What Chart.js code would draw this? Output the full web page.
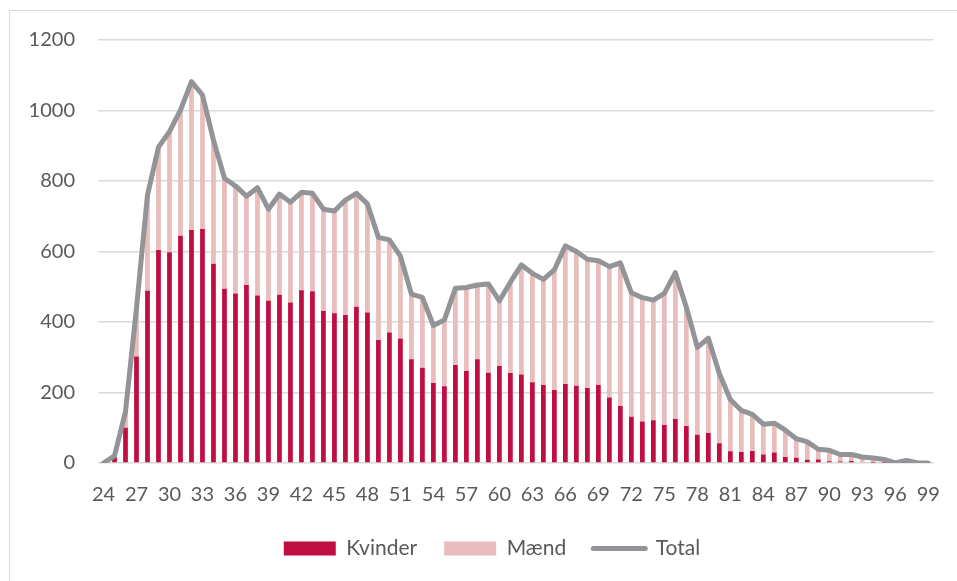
<!DOCTYPE html>
<html>
<head>
<meta charset="utf-8">
<script src="https://cdn.jsdelivr.net/npm/chart.js@4"></script>
<style>
  html, body { margin: 0; padding: 0; background: #fff; overflow: hidden; }
  #frame { position: absolute; left: 9px; top: 10px; width: 1000px; height: 1000px; border: 1px solid #d9d9d9; }
  #wrap { position: absolute; left: 0; top: 0; width: 957px; height: 581px; }
</style>
</head>
<body>
<div id="frame"></div>
<div id="wrap"><canvas id="chart"></canvas></div>
<script>
// Ages 24..99
const ages = [];
for (let a = 24; a <= 99; a++) ages.push(String(a));

const kvinder = [
  0, 16, 100, 302, 489, 604, 598, 645, 661, 664,
  565, 494, 481, 505, 475, 460, 477, 455, 490, 487,
  431, 425, 420, 443, 427, 349, 370, 353, 294, 270,
  227, 218, 278, 261, 294, 256, 275, 255, 251, 229,
  221, 207, 224, 219, 213, 221, 186, 162, 131, 118,
  121, 108, 125, 105, 80, 85, 56, 33, 31, 34,
  24, 30, 17, 15, 9, 10, 5, 4, 6, 2,
  1, 1, 0, 0, 0, 0
];

const maend = [
  0, 4, 46, 138, 271, 292, 342, 356, 421, 380,
  351, 314, 305, 252, 306, 260, 286, 285, 278, 278,
  289, 290, 326, 322, 308, 291, 263, 234, 185, 200,
  163, 188, 218, 237, 211, 252, 185, 258, 311, 309,
  300, 341, 392, 381, 365, 353, 371, 406, 352, 351,
  341, 373, 415, 337, 248, 269, 198, 147, 118, 104,
  86, 83, 76, 54, 51, 29, 31, 20, 18, 15,
  13, 9, 0, 7, 1, 0
];

const total = [
  0, 20, 146, 440, 760, 896, 940, 1001, 1082, 1044,
  916, 808, 786, 757, 781, 720, 763, 740, 768, 765,
  720, 715, 746, 765, 735, 640, 633, 587, 479, 470,
  390, 406, 496, 498, 505, 508, 460, 513, 562, 538,
  521, 548, 616, 600, 578, 574, 557, 568, 483, 469,
  462, 481, 540, 442, 328, 354, 254, 180, 149, 138,
  110, 113, 93, 69, 60, 39, 36, 24, 24, 17,
  14, 10, 0, 7, 1, 0
];

const yTicks = [0, 200, 400, 600, 800, 1000, 1200];

const textColor = '#595959';
const fontFamily = 'Lato, "Open Sans", sans-serif';

// nudge the legend to the right, like the original
const legendShift = {
  id: 'legendShift',
  afterLayout(chart) {
    chart.legend.left += 23;
    chart.legend.right += 23;
  }
};

new Chart(document.getElementById('chart'), {
  data: {
    labels: ages,
    datasets: [
      {
        type: 'bar',
        label: 'Kvinder',
        data: kvinder,
        backgroundColor: '#C00D42',
        borderWidth: 0,
        stack: 'bars',
        order: 1,
        barPercentage: 0.9,
        categoryPercentage: 0.48
      },
      {
        type: 'bar',
        label: 'Mænd',
        data: maend,
        backgroundColor: '#E8BDBC',
        borderWidth: 0,
        stack: 'bars',
        order: 2,
        barPercentage: 0.9,
        categoryPercentage: 0.48
      },
      {
        type: 'line',
        label: 'Total',
        data: total,
        borderColor: '#929497',
        backgroundColor: '#929497',
        borderWidth: 5,
        borderCapStyle: 'round',
        borderJoinStyle: 'round',
        pointRadius: 0,
        tension: 0,
        stack: 'line',
        order: 0
      }
    ]
  },
  plugins: [legendShift],
  options: {
    responsive: true,
    maintainAspectRatio: false,
    animation: false,
    layout: { padding: { left: 0, right: 19, top: 40, bottom: 12 } },
    plugins: {
      tooltip: { enabled: false },
      legend: {
        position: 'bottom',
        labels: {
          usePointStyle: true,
          pointStyleWidth: 52,
          boxHeight: 14,
          padding: 27,
          color: textColor,
          font: { family: fontFamily, size: 21 },
          sort: (a, b) => a.datasetIndex - b.datasetIndex,
          generateLabels: chart => {
            const items = Chart.defaults.plugins.legend.labels.generateLabels(chart);
            items.forEach(it => {
              if (it.datasetIndex === 2) {
                it.pointStyle = 'line';
                it.lineWidth = 5;
                it.lineCap = 'round';
              } else {
                it.pointStyle = 'rect';
                it.lineWidth = 0;
              }
            });
            return items;
          }
        }
      }
    },
    scales: {
      x: {
        stacked: true,
        afterFit: scale => { scale.height = 48; },
        grid: { display: false, drawTicks: false },
        border: { display: false },
        ticks: {
          autoSkip: false,
          maxRotation: 0,
          padding: 17,
          color: textColor,
          font: { family: fontFamily, size: 20, lineHeight: 1.5 },
          callback: function(value, index) {
            return index % 3 === 0 ? ages[index] : '';
          }
        }
      },
      y: {
        stacked: true,
        min: 0,
        max: 1200,
        afterBuildTicks: scale => { scale.ticks = yTicks.map(v => ({ value: v })); },
        afterFit: scale => { scale.width = 98; },
        grid: { color: '#D9D9D9', lineWidth: 1.5, drawTicks: false },
        border: { display: false },
        ticks: {
          padding: 23,
          color: textColor,
          font: { family: fontFamily, size: 20 },
          callback: value => String(value)
        }
      }
    }
  }
});
</script>
</body>
</html>
